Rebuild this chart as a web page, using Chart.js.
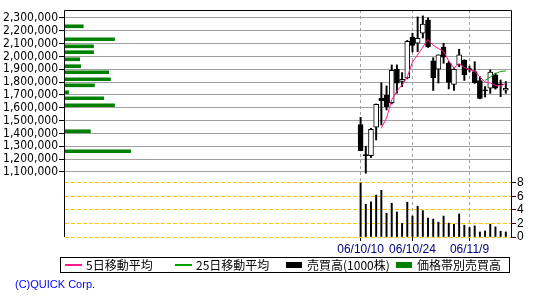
<!DOCTYPE html>
<html>
<head>
<meta charset="utf-8">
<script src="https://cdn.jsdelivr.net/npm/chart.js@4.4.1/dist/chart.umd.min.js"></script>
<style>
html, body { margin: 0; padding: 0; background: #fff; }
#wrap { position: relative; width: 550px; height: 300px; }
#legend {
    position: absolute; left: 60px; top: 257px; width: 450px; height: 16px;
    border: 1px solid #000; box-sizing: border-box;
    font: 12px "Noto Sans CJK JP", sans-serif; color: #000;
}
#legend .item { position: absolute; top: 0; height: 14px; line-height: 14px; white-space: nowrap; }
#legend .ln { position: absolute; left: 0; top: 6px; width: 17px; height: 2px; }
#legend .bx { position: absolute; left: 0; top: 4px; width: 16px; height: 6px; }
#legend .tx { position: absolute; left: 21px; top: 0; }
#copy { position: absolute; left: 15px; top: 278px; font: 11px "Liberation Sans", Arial, sans-serif; color: #0000ff; }
</style>
</head>
<body>
<div id="wrap">
    <canvas id="chart" width="550" height="300"></canvas>
    <div id="legend">
        <span class="item" style="left:4px"><i class="ln" style="background:#ff1a8c"></i><span class="tx">5日移動平均</span></span>
        <span class="item" style="left:114px"><i class="ln" style="background:#00a000"></i><span class="tx">25日移動平均</span></span>
        <span class="item" style="left:225px"><i class="bx" style="background:#000"></i><span class="tx">売買高(1000株)</span></span>
        <span class="item" style="left:335px"><i class="bx" style="background:#008000"></i><span class="tx">価格帯別売買高</span></span>
    </div>
    <div id="copy">(C)QUICK Corp.</div>
</div>
<script>
// 売買日
const dates = ['06/10/10', '06/10/11', '06/10/12', '06/10/13', '06/10/16', '06/10/17', '06/10/18', '06/10/19', '06/10/20',
    '06/10/23', '06/10/24', '06/10/25', '06/10/26', '06/10/27', '06/10/30', '06/10/31', '06/11/1', '06/11/2',
    '06/11/6', '06/11/7', '06/11/8', '06/11/9', '06/11/10', '06/11/13', '06/11/14', '06/11/15', '06/11/16',
    '06/11/17', '06/11/20'];

// 四本値 (円)
const opens  = [1470000, 1227000, 1227000, 1448000, 1676000, 1697000, 1640000, 1900000, 1805000, 1832000,
    2150000, 2103000, 2181000, 2284000, 1965000, 1900000, 2074000, 1949000, 1782000, 1934000,
    1969000, 1905000, 1882000, 1811000, 1733000, 1752000, 1856000, 1778000, 1737000];
const highs  = [1525000, 1300000, 1440000, 1630000, 1795000, 1770000, 1934000, 1934000, 1874000, 2125000,
    2181000, 2308000, 2316000, 2300000, 1990000, 2012000, 2103000, 1960000, 1905000, 2056000,
    1975000, 1925000, 1959000, 1843000, 1766000, 1895000, 1870000, 1817000, 1804000];
const lows   = [1265000, 1090000, 1212000, 1349000, 1466000, 1583000, 1630000, 1713000, 1765000, 1825000,
    2035000, 2037000, 2144000, 2070000, 1735000, 1793000, 1947000, 1747000, 1735000, 1920000,
    1813000, 1880000, 1790000, 1670000, 1684000, 1713000, 1745000, 1687000, 1713000];
const closes = [1265000, 1227000, 1432000, 1627000, 1655000, 1609000, 1892000, 1791000, 1822000, 2118000,
    2086000, 2142000, 2253000, 2076000, 1835000, 2012000, 1994000, 1797000, 1900000, 2012000,
    1856000, 1895000, 1796000, 1673000, 1733000, 1879000, 1752000, 1778000, 1752000];

// 売買高 (1000株)
const volumes = [8.0, 4.85, 5.2, 6.2, 6.9, 3.5, 5.0, 3.7, 2.0, 5.15, 3.1, 4.55, 3.9, 2.8, 2.65, 2.2, 3.1, 2.05,
    1.9, 3.4, 1.75, 1.4, 1.65, 0.75, 0.9, 1.9, 1.5, 0.85, 0.75];

// 移動平均
const ma5 = [null, null, null, null, 1440000, 1521000, 1661000, 1731000, 1778000, 1840000, 1957000, 2012000,
    2074000, 2132000, 2086000, 2062000, 2039000, 1965000, 1910000, 1945000, 1914000, 1895000, 1887000,
    1840000, 1801000, 1793000, 1774000, 1770000, 1790000];
const ma25 = [null, null, null, null, null, null, null, null, null, null, null, null, null, null, null, null,
    null, null, null, null, null, null, null, null, 1813000, 1840000, 1867000, 1883000, 1887000];

// 価格帯別売買高
const bandPrices  = [2235000, 2134000, 2079000, 2033000, 1978000, 1924000, 1877000, 1822000, 1775000, 1721000,
    1674000, 1620000, 1417000, 1261000];
const bandVolumes = [4.1, 11.1, 6.4, 6.4, 3.3, 3.5, 9.8, 10.2, 6.6, 0.8, 8.7, 11.1, 5.7, 14.7];

// 目盛り
const priceTicks = [1100000, 1200000, 1300000, 1400000, 1500000, 1600000, 1700000, 1800000, 1900000,
    2000000, 2100000, 2200000, 2300000];
const volumeTicks = [0, 2, 4, 6, 8];
const dateTicks = ['06/10/10', '06/10/24', '06/11/9'];

const PINK = '#ff1a8c';
const GREEN_MA = '#00a000';
const GREEN_BAND = '#008000';

// 枠線
const framePlugin = {
    id: 'frame',
    afterDraw(chart) {
        const { ctx, chartArea: a } = chart;
        ctx.save();
        ctx.strokeStyle = '#000';
        ctx.lineWidth = 1;
        ctx.beginPath();
        ctx.moveTo(Math.round(a.left) - 0.5, Math.round(a.bottom));
        ctx.lineTo(Math.round(a.left) - 0.5, Math.round(a.top) + 0.5);
        ctx.lineTo(Math.round(a.right) + 0.5, Math.round(a.top) + 0.5);
        ctx.lineTo(Math.round(a.right) + 0.5, Math.round(a.bottom));
        ctx.stroke();
        ctx.restore();
    }
};

const idx = dates.map((d, i) => i);

new Chart(document.getElementById('chart'), {
    data: {
        datasets: [
            {
                type: 'line', label: '5日移動平均', order: 0,
                data: idx.map(i => ({ x: i, y: ma5[i] })),
                borderColor: PINK, borderWidth: 1, pointRadius: 0, xAxisID: 'x', yAxisID: 'y'
            },
            {
                type: 'line', label: '25日移動平均', order: 0,
                data: idx.map(i => ({ x: i, y: ma25[i] })),
                borderColor: GREEN_MA, borderWidth: 1, pointRadius: 0, xAxisID: 'x', yAxisID: 'y'
            },
            {
                type: 'bar', label: '売買高(1000株)', order: 3,
                data: idx.map(i => ({ x: i, y: volumes[i] })),
                backgroundColor: '#000', barThickness: 1.3, grouped: false, xAxisID: 'x', yAxisID: 'yv'
            },
            {
                type: 'bar', label: '価格帯別売買高', order: 4, indexAxis: 'y',
                data: bandPrices.map((p, i) => ({ x: bandVolumes[i], y: p })),
                backgroundColor: GREEN_BAND, barThickness: 3, grouped: false, xAxisID: 'xb', yAxisID: 'y'
            },
            {
                // ローソク足 実体
                type: 'bar', order: 1,
                data: idx.map(i => ({ x: i, y: [opens[i], closes[i]] })),
                backgroundColor: idx.map(i => closes[i] > opens[i] ? '#fff' : '#000'),
                borderColor: '#000', borderWidth: 1, borderSkipped: false, minBarLength: 1,
                barThickness: 5, grouped: false, xAxisID: 'x', yAxisID: 'y'
            },
            {
                // ローソク足 ヒゲ
                type: 'bar', order: 2,
                data: idx.map(i => ({ x: i, y: [lows[i], highs[i]] })),
                backgroundColor: '#000', barThickness: 1.3, grouped: false, xAxisID: 'x', yAxisID: 'y'
            }
        ]
    },
    options: {
        responsive: false,
        animation: false,
        events: [],
        layout: { padding: { top: 10, bottom: 43, left: 0, right: 0 } },
        plugins: { legend: { display: false }, tooltip: { enabled: false } },
        scales: {
            x: {
                type: 'linear', position: 'bottom', min: -57, max: 29, offset: false,
                afterBuildTicks: s => { s.ticks = dateTicks.map(d => ({ value: dates.indexOf(d) })); },
                afterFit: s => { s.height = 20; },
                ticks: {
                    autoSkip: false, maxRotation: 0, padding: 1, color: '#000080',
                    font: { family: '"Liberation Sans", Arial, sans-serif', size: 12 },
                    callback: v => dates[v] ?? ''
                },
                grid: { offset: false, color: '#a0a0a0', tickColor: '#000', tickLength: 4, tickBorderDash: [] },
                border: { display: false, dash: [3, 3] }
            },
            xb: {
                type: 'linear', axis: 'x', display: false, min: 0, max: 100, offset: false
            },
            y: {
                type: 'linear', position: 'left', min: 593000, max: 2362000, offset: false,
                afterBuildTicks: s => { s.ticks = priceTicks.map(v => ({ value: v })); },
                afterFit: s => { s.width = 65; },
                ticks: {
                    padding: 1, color: '#000',
                    font: { family: '"Liberation Sans Narrow", "DejaVu Sans Condensed", Arial, sans-serif', size: 12 },
                    callback: v => v.toLocaleString('en-US')
                },
                grid: {
                    offset: false, tickColor: '#000', tickLength: 6,
                    color: c => priceTicks.includes(c.tick && c.tick.value) ? '#a0a0a0' : 'rgba(0,0,0,0)'
                },
                border: { display: false }
            },
            yv: {
                type: 'linear', position: 'right', min: 0, max: 33.6, offset: false,
                afterBuildTicks: s => { s.ticks = volumeTicks.map(v => ({ value: v })); },
                afterFit: s => { s.width = 39; },
                ticks: {
                    padding: 1, color: '#000',
                    font: { family: '"Liberation Sans", Arial, sans-serif', size: 12 }
                },
                grid: { offset: false, color: '#ffc800', lineWidth: 1, tickColor: '#400000', tickLength: 5, tickBorderDash: [] },
                border: { display: false, dash: [4, 2] }
            }
        }
    },
    plugins: [framePlugin]
});
</script>
</body>
</html>
